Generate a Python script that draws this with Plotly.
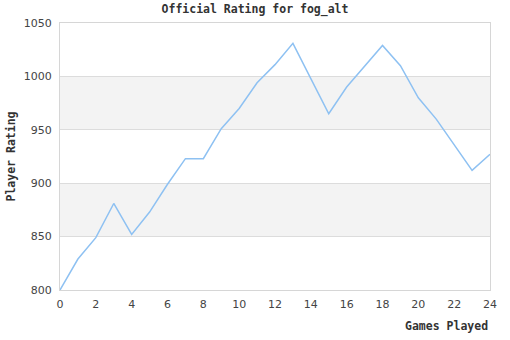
import plotly.graph_objects as go

games = list(range(25))
ratings = [800, 829, 849, 881, 852, 873, 899, 923, 923, 951, 970, 994, 1011,
           1031, 998, 965, 990, 1010, 1029, 1010, 980, 960, 936, 912, 927]
y_ticks = [800, 850, 900, 950, 1000, 1050]
x_ticks = list(range(0, 25, 2))
bands = [(850, 900), (950, 1000)]

mono = "DejaVu Sans Mono"
fig = go.Figure()
fig.add_trace(go.Scatter(x=games, y=ratings, mode="lines",
                         line=dict(color="#8ec1f2", width=1.5), hoverinfo="x+y"))

for lo, hi in bands:
    fig.add_shape(type="rect", xref="paper", yref="y", x0=0, x1=1, y0=lo, y1=hi,
                  fillcolor="#f3f3f3", line=dict(width=0), layer="below")

fig.update_layout(
    width=510, height=340,
    margin=dict(l=60, r=20, t=23, b=50),
    paper_bgcolor="white", plot_bgcolor="white",
    showlegend=False,
    title=dict(text="<b>Official Rating for fog_alt</b>", x=0.5, xanchor="center",
               y=1, yref="container", yanchor="top", pad=dict(t=5),
               font=dict(family=mono, size=11.5, color="#333333")),
    xaxis=dict(range=[0, 24], tickvals=x_ticks, showgrid=False, zeroline=False,
               showline=True, linecolor="#d6d6d6", linewidth=1, mirror=True,
               ticks="", ticklabelstandoff=4,
               tickfont=dict(family="DejaVu Sans", size=11, color="#444444")),
    yaxis=dict(range=[800, 1050], tickvals=y_ticks, showgrid=True, gridcolor="#dcdcdc",
               zeroline=False, showline=True, linecolor="#d6d6d6", linewidth=1, mirror=True,
               ticks="", ticklabelstandoff=5,
               tickfont=dict(family="DejaVu Sans", size=11, color="#444444")),
    annotations=[
        dict(text="<b>Games Played</b>", xref="paper", yref="paper", x=1, y=0,
             xanchor="right", yanchor="top", yshift=-27, showarrow=False,
             font=dict(family=mono, size=11.5, color="#333333")),
        dict(text="<b>Player Rating</b>", xref="paper", yref="paper", x=0, y=0.5,
             xanchor="center", yanchor="middle", xshift=-50, textangle=-90, showarrow=False,
             font=dict(family=mono, size=11.5, color="#333333")),
    ],
)

fig.write_html("out.html")
